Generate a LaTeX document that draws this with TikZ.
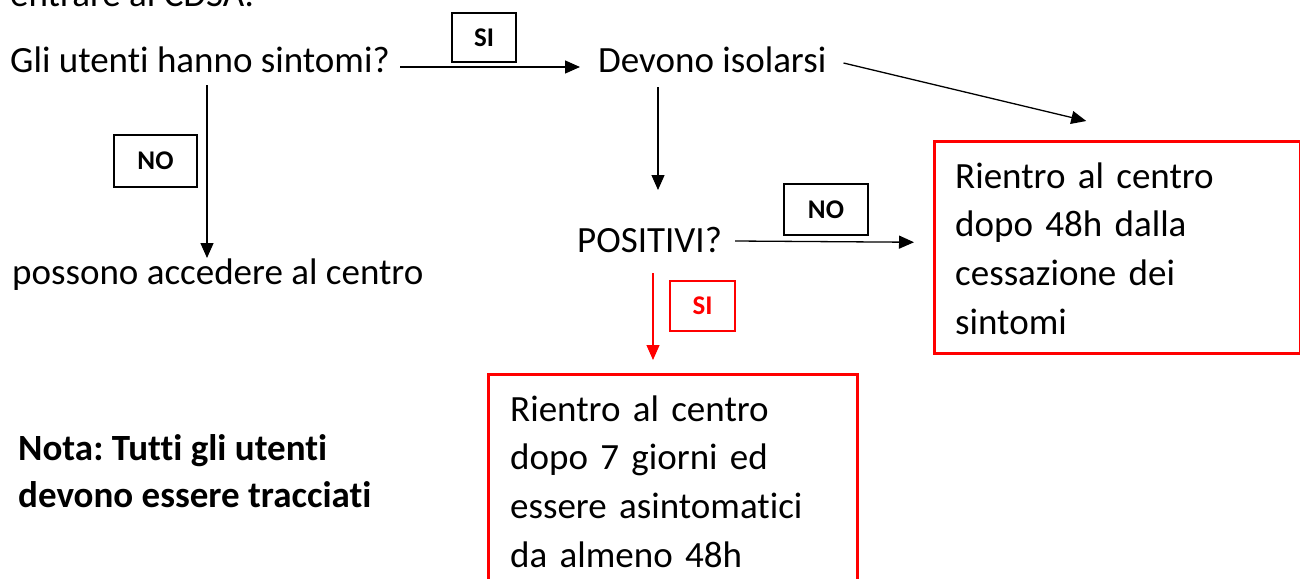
\documentclass[tikz,border=0pt]{standalone}
\usepackage{fontspec}
\setmainfont{Carlito}[Ligatures={NoCommon,NoRare,NoContextual}]
\frenchspacing
\usetikzlibrary{arrows.meta}

\begin{document}
\begin{tikzpicture}[x=1pt,y=-1pt,
        txt/.style={inner sep=0pt,anchor=base west,font=\fontsize{37}{48.8}\selectfont},
        lbl/.style={draw,line width=2.5pt,inner sep=0pt,font=\fontsize{27}{32}\selectfont\bfseries},
        frame/.style={draw=red,line width=2.5pt,inner sep=0pt,anchor=north west},
        arr/.style={line width=1.3pt,-{Triangle[length=15pt,width=13pt]}}]
        \useasboundingbox (0,0) rectangle (1300,578);
        % testi
        \node [txt] (intro) at (10,7) {entrare al CDSA.};
        \node [txt] (q1) at (10,73) {Gli utenti hanno sintomi?};
        \node [txt] (iso) at (598,73) {Devono isolarsi};
        \node [txt] (acc) at (12,284) {possono accedere al centro};
        \node [txt] (pos) at (577,252) {POSITIVI?};
        % base = ultima riga
        \node [txt,align=left,font=\fontsize{37}{47}\selectfont\bfseries] (nota) at (18,507) {Nota: Tutti gli utenti\\devono essere tracciati};
        % riquadri rossi
        \node [frame,minimum width=366pt,minimum height=212pt] (rbox) at (933,140) {};
        \node [txt,text width=330pt,align=left] (rtxt) at ([shift={(22,48)}]rbox.north west) {Rientro al centro\\dopo 48h dalla\\cessazione dei\\sintomi};
        \node [frame,minimum width=369pt,minimum height=300pt] (bbox) at (487,373) {};
        \node [txt,text width=330pt,align=left] (btxt) at ([shift={(23,48)}]bbox.north west) {Rientro al centro\\dopo 7 giorni ed\\essere asintomatici\\da almeno 48h};
        % etichette
        \node [lbl,minimum width=64pt,minimum height=49pt] (si1) at (484,37.5) {SI};
        \node [lbl,minimum width=83pt,minimum height=52pt] (no1) at (155.5,161) {NO};
        \node [lbl,minimum width=84pt,minimum height=51pt] (no2) at (826,209.5) {NO};
        \node [lbl,draw=red,text=red,minimum width=65pt,minimum height=50pt] (si2) at (702.5,306) {SI};
        % frecce
        \draw [arr] ([shift={(390,-6)}]q1.base west) -- ([shift={(-18,-6)}]iso.base west);
        \draw [arr] ([shift={(17,-10)}]iso.base east) -- ([shift={(-31,-19)}]rbox.north);
        \draw [arr] ([shift={(197,12)}]q1.base west) -- ([shift={(195,-26)}]acc.base west);
        \draw [arr] ([shift={(60,14)}]iso.base west) -- ([shift={(81,-62)}]pos.base west);
        \draw [arr] ([shift={(158,-11)}]pos.base west) -- ([shift={(-19,-5)}]rbox.west);
        \draw [arr,red] ([shift={(76,21)}]pos.base west) -- ([shift={(166,-13)}]bbox.north west);
\end{tikzpicture}
\end{document}
